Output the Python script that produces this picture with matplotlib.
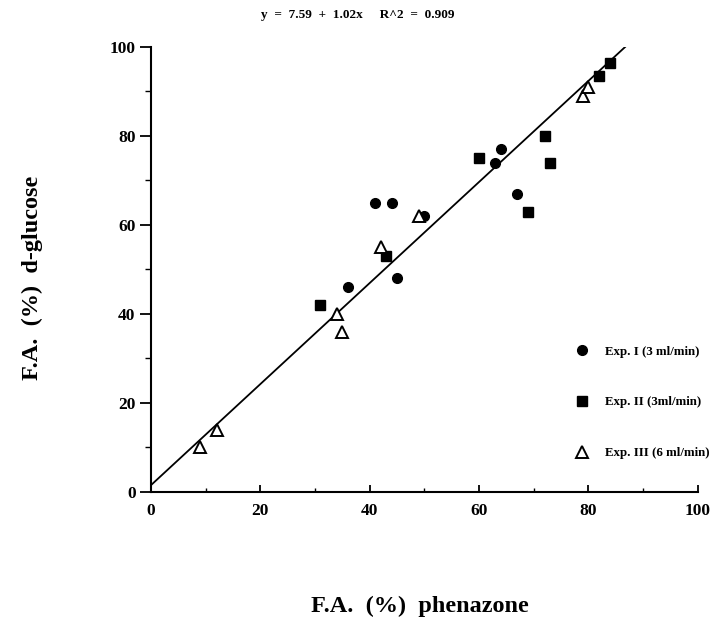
import matplotlib
matplotlib.use("Agg")
import matplotlib.pyplot as plt
import numpy as np
from matplotlib.ticker import MultipleLocator

plt.rcParams['font.family'] = ['Liberation Serif', 'DejaVu Serif']
plt.rcParams['font.weight'] = 'bold'

exp1_x = [41, 44, 36, 45, 50, 63, 64, 67]
exp1_y = [65, 65, 46, 48, 62, 74, 77, 67]
exp2_x = [31, 43, 60, 69, 72, 73, 82, 84]
exp2_y = [42, 53, 75, 63, 80, 74, 93.5, 96.5]
exp3_x = [9, 12, 34, 35, 42, 49, 79, 80]
exp3_y = [10, 14, 40, 36, 55, 62, 89, 91]
line_x = [0, 86.7]
line_intercept = 1.5
line_slope = 1.136
labels = ["Exp. I (3 ml/min)", "Exp. II (3ml/min)", "Exp. III (6 ml/min)"]
title = "y  =  7.59  +  1.02x     R^2  =  0.909"

fig = plt.figure(figsize=(7.15, 6.18), dpi=100)
ax = fig.add_axes([0.211, 0.204, 0.765, 0.72])

lx = np.array(line_x)
ax.plot(lx, line_intercept + line_slope * lx, color='black', lw=1.3, zorder=1)
ax.plot(exp1_x, exp1_y, 'o', color='black', ms=7, ls='none', label=labels[0], zorder=3)
ax.plot(exp2_x, exp2_y, 's', color='black', ms=7, ls='none', label=labels[1], zorder=3)
ax.plot(exp3_x, exp3_y, '^', mfc='white', mec='black', mew=1.4, ms=8, ls='none', label=labels[2], zorder=3)

ax.set_xlim(0, 100)
ax.set_ylim(0, 100)
ax.xaxis.set_major_locator(MultipleLocator(20))
ax.yaxis.set_major_locator(MultipleLocator(20))
ax.xaxis.set_minor_locator(MultipleLocator(10))
ax.yaxis.set_minor_locator(MultipleLocator(10))
for s in ['top', 'right']:
    ax.spines[s].set_visible(False)
for s in ['left', 'bottom']:
    ax.spines[s].set_linewidth(1.5)
ax.tick_params(axis='y', which='major', direction='out', length=8, width=1.3, labelsize=12.5, pad=3)
ax.tick_params(axis='y', which='minor', direction='out', length=4, width=1.0)
ax.tick_params(axis='x', which='major', direction='in', length=5, width=1.3, labelsize=12.5, pad=8)
ax.tick_params(axis='x', which='minor', direction='in', length=3, width=1.0)
for t in ax.get_xticklabels() + ax.get_yticklabels():
    t.set_fontweight('bold')

fig.text(0.50, 0.975, title, ha='center', va='center', fontsize=9.5, fontweight='bold')
fig.text(0.045, 0.55, "F.A.  (%)  d-glucose", rotation=90, ha='center', va='center', fontsize=17.5, fontweight='bold')
fig.text(0.587, 0.018, "F.A.  (%)  phenazone", ha='center', va='center', fontsize=17.5, fontweight='bold')

leg = ax.legend(loc='upper left', bbox_to_anchor=(0.755, 0.355), frameon=False,
                labelspacing=3.0, handletextpad=1.3, handlelength=1.0,
                prop={'weight': 'bold', 'size': 9.3})

fig.savefig("out.png", dpi=100)
